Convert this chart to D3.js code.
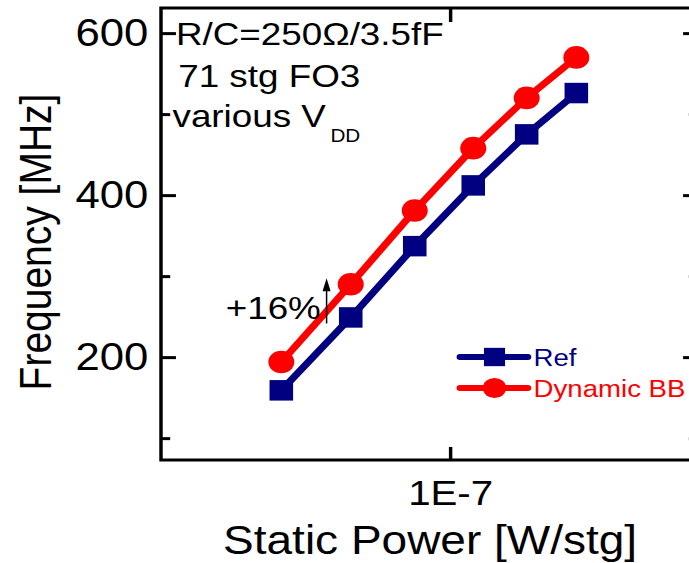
<!DOCTYPE html>
<html>
<head>
<meta charset="utf-8">
<script src="https://cdn.jsdelivr.net/npm/d3@7/dist/d3.min.js"></script>
<style>
  body { margin: 0; background: #fff; }
  svg { display: block; }
  text { font-family: "Liberation Sans", Arial, sans-serif; }
</style>
</head>
<body>
<div id="chart"></div>
<script>
var width = 689;
var height = 563;
// the original figure is a little wider than tall, so stretch everything
var stretch = 1.15;

// data
var staticPower = [5.0e-8, 6.65e-8, 8.65e-8, 1.10e-7, 1.37e-7, 1.68e-7];
var refFreq = [159, 249, 337, 412, 475, 526];
var dynFreq = [194, 290, 381, 458, 520, 570];
var seriesNames = ["Ref", "Dynamic BB"];
var yMajorTicks = [200, 400, 600];
var yMinorTicks = [100, 300, 500];
var xTicks = [1e-7];
var notes = ["R/C=250\u03a9/3.5fF", "71 stg FO3", "various V"];

var blue = "#000080";
var red = "#ff0000";

var plotLeft = 140, plotRight = 607, plotTop = 8, plotBottom = 460;

var x = d3.scaleLog()
    .domain([3.05e-8, 2.77e-7])
    .range([plotLeft, plotRight]);

var y = d3.scaleLinear()
    .domain([73, 631])
    .range([plotBottom, plotTop]);

var svg = d3.select("#chart")
    .append("svg")
    .attr("width", width)
    .attr("height", height);

var g = svg.append("g")
    .attr("transform", "scale(" + stretch + ",1)");

// frame
g.append("rect")
    .attr("x", plotLeft)
    .attr("y", plotTop)
    .attr("width", plotRight - plotLeft)
    .attr("height", plotBottom - plotTop)
    .attr("fill", "none")
    .attr("stroke", "black")
    .attr("stroke-width", 3);

function styleAxis(sel) {
    sel.select(".domain").remove();
    sel.selectAll(".tick line").attr("stroke", "black").attr("stroke-width", 3);
    sel.selectAll(".tick text")
        .attr("fill", "black")
        .style("font-size", "38px")
        .style("font-family", "Liberation Sans, Arial, sans-serif");
}

// left axis, major + minor
g.append("g")
    .attr("transform", "translate(" + plotLeft + ",0)")
    .call(d3.axisLeft(y).tickValues(yMajorTicks).tickSize(-13).tickPadding(11))
    .call(styleAxis);
g.append("g")
    .attr("transform", "translate(" + plotLeft + ",0)")
    .call(d3.axisLeft(y).tickValues(yMinorTicks).tickSize(-8).tickFormat(""))
    .call(styleAxis);

// right axis
g.append("g")
    .attr("transform", "translate(" + plotRight + ",0)")
    .call(d3.axisRight(y).tickValues(yMajorTicks).tickSize(-13).tickFormat(""))
    .call(styleAxis);
g.append("g")
    .attr("transform", "translate(" + plotRight + ",0)")
    .call(d3.axisRight(y).tickValues(yMinorTicks).tickSize(-8).tickFormat(""))
    .call(styleAxis);

// bottom axis
var xAxisG = g.append("g")
    .attr("transform", "translate(0," + plotBottom + ")")
    .call(d3.axisBottom(x).tickValues(xTicks).tickSize(-13).tickPadding(12)
        .tickFormat(function(d) { return "1E" + Math.round(Math.log10(d)); }))
    .call(styleAxis);
xAxisG.selectAll(".tick text").style("font-size", "35px").attr("dy", "0.95em");

// top axis
g.append("g")
    .attr("transform", "translate(0," + plotTop + ")")
    .call(d3.axisTop(x).tickValues(xTicks).tickSize(-14).tickFormat(""))
    .call(styleAxis);

// axis titles
g.append("text")
    .attr("x", 374)
    .attr("y", 554)
    .attr("text-anchor", "middle")
    .style("font-size", "40px")
    .text("Static Power [W/stg]");

g.append("text")
    .attr("transform", "translate(44,242) rotate(-90)")
    .attr("text-anchor", "middle")
    .style("font-size", "39px")
    .text("Frequency [MHz]");

// series
var series = [
    { name: seriesNames[0], color: blue, symbol: d3.symbolSquare, size: 420, values: refFreq },
    { name: seriesNames[1], color: red, symbol: d3.symbolCircle, size: Math.PI * 11.3 * 11.3, values: dynFreq }
];

var lineGen = d3.line()
    .x(function(d) { return x(d[0]); })
    .y(function(d) { return y(d[1]); });

series.forEach(function(s) {
    var pts = staticPower.map(function(p, i) { return [p, s.values[i]]; });
    g.append("path")
        .datum(pts)
        .attr("d", lineGen)
        .attr("fill", "none")
        .attr("stroke", s.color)
        .attr("stroke-width", 6.5)
        .attr("stroke-linejoin", "round");
    g.selectAll(null)
        .data(pts)
        .enter()
        .append("path")
        .attr("d", d3.symbol().type(s.symbol).size(s.size))
        .attr("transform", function(d) { return "translate(" + x(d[0]) + "," + y(d[1]) + ")"; })
        .attr("fill", s.color);
});

// annotation text top-left
g.append("text").attr("x", 153).attr("y", 45).style("font-size", "32px").text(notes[0]);
g.append("text").attr("x", 155).attr("y", 87).style("font-size", "32px").text(notes[1]);
var vdd = g.append("text").attr("x", 150).attr("y", 127).style("font-size", "32px");
vdd.append("tspan").text(notes[2]);
vdd.append("tspan").attr("dx", 4).attr("dy", 15).style("font-size", "18px").text("DD");

// +16% arrow at the second point
var ax = x(staticPower[1]) - 21;
var ay1 = y(refFreq[1]) + 6;
var ay2 = y(dynFreq[1]) - 6;
g.append("line")
    .attr("x1", ax).attr("x2", ax)
    .attr("y1", ay1).attr("y2", ay2 + 12)
    .attr("stroke", "black")
    .attr("stroke-width", 1.3);
g.append("path")
    .attr("d", d3.line()([[ax - 3.5, ay2 + 13], [ax, ay2], [ax + 3.5, ay2 + 13]]))
    .attr("fill", "black");
g.append("text")
    .attr("x", ax - 5)
    .attr("y", ay1 - 4)
    .attr("text-anchor", "end")
    .style("font-size", "32px")
    .text("+16%");

// legend
var legend = g.append("g").attr("transform", "translate(400,357)");
series.forEach(function(s, i) {
    var row = legend.append("g").attr("transform", "translate(0," + (i * 31) + ")");
    row.append("line")
        .attr("x1", 0).attr("x2", 59)
        .attr("stroke", s.color)
        .attr("stroke-width", 6)
        .attr("stroke-linecap", "round");
    row.append("path")
        .attr("d", d3.symbol().type(s.symbol).size(s.size * 0.8))
        .attr("transform", "translate(30,0)")
        .attr("fill", s.color);
    row.append("text")
        .attr("x", 64)
        .attr("y", 9)
        .attr("fill", s.color)
        .style("font-size", "24px")
        .text(s.name);
});
</script>
</body>
</html>
